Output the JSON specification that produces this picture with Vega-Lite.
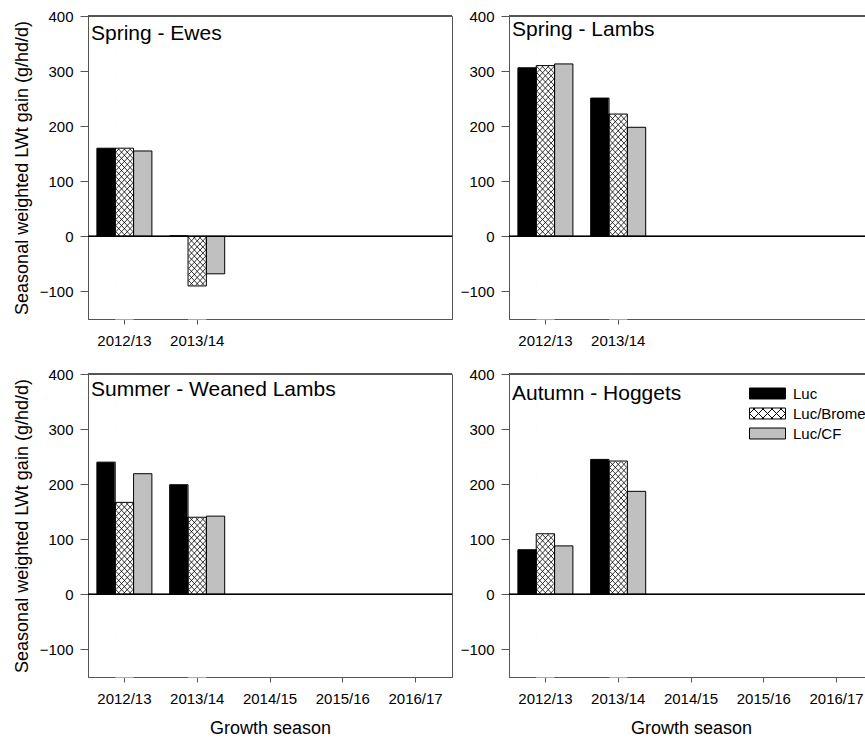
{
  "$schema": "https://vega.github.io/schema/vega-lite/v6.json",
  "padding": {"left": 12, "top": 8, "right": 0, "bottom": 0},
  "background": "white",
  "resolve": {"scale": {"fill": "independent", "shape": "independent"}, "legend": {"fill": "independent", "shape": "independent"}},
  "config": {
    "font": "Liberation Sans",
    "view": {"stroke": "#555", "strokeWidth": 1},
    "axis": {"labelFont": "Liberation Sans", "labelFontSize": 15, "labelColor": "black", "titleFont": "Liberation Sans", "titleFontSize": 18, "titleFontWeight": "normal", "titleColor": "black", "domainColor": "#555", "tickColor": "#555", "grid": false, "zindex": 1, "labelOverlap": false},
    "axisX": {"tickSize": 5, "labelPadding": 9, "titlePadding": 13, "labelAngle": 0},
    "axisY": {"tickSize": 8, "labelPadding": 7, "titlePadding": 8},
    "title": {"anchor": "start", "frame": "group", "orient": "top", "baseline": "alphabetic", "fontSize": 21, "fontWeight": "normal", "color": "black", "font": "Liberation Sans", "dx": 3}
  },
  "datasets": {
    "lwt": [
      {"panel": "Spring - Ewes", "season": "2012/13", "series": "Luc", "value": 160},
      {"panel": "Spring - Ewes", "season": "2012/13", "series": "Luc/Brome", "value": 160},
      {"panel": "Spring - Ewes", "season": "2012/13", "series": "Luc/CF", "value": 155},
      {"panel": "Spring - Ewes", "season": "2013/14", "series": "Luc", "value": 1},
      {"panel": "Spring - Ewes", "season": "2013/14", "series": "Luc/Brome", "value": -90},
      {"panel": "Spring - Ewes", "season": "2013/14", "series": "Luc/CF", "value": -68},
      {"panel": "Spring - Lambs", "season": "2012/13", "series": "Luc", "value": 306},
      {"panel": "Spring - Lambs", "season": "2012/13", "series": "Luc/Brome", "value": 310},
      {"panel": "Spring - Lambs", "season": "2012/13", "series": "Luc/CF", "value": 313},
      {"panel": "Spring - Lambs", "season": "2013/14", "series": "Luc", "value": 251},
      {"panel": "Spring - Lambs", "season": "2013/14", "series": "Luc/Brome", "value": 222},
      {"panel": "Spring - Lambs", "season": "2013/14", "series": "Luc/CF", "value": 198},
      {"panel": "Summer - Weaned Lambs", "season": "2012/13", "series": "Luc", "value": 240},
      {"panel": "Summer - Weaned Lambs", "season": "2012/13", "series": "Luc/Brome", "value": 167},
      {"panel": "Summer - Weaned Lambs", "season": "2012/13", "series": "Luc/CF", "value": 219},
      {"panel": "Summer - Weaned Lambs", "season": "2013/14", "series": "Luc", "value": 199},
      {"panel": "Summer - Weaned Lambs", "season": "2013/14", "series": "Luc/Brome", "value": 140},
      {"panel": "Summer - Weaned Lambs", "season": "2013/14", "series": "Luc/CF", "value": 142},
      {"panel": "Autumn - Hoggets", "season": "2012/13", "series": "Luc", "value": 81},
      {"panel": "Autumn - Hoggets", "season": "2012/13", "series": "Luc/Brome", "value": 110},
      {"panel": "Autumn - Hoggets", "season": "2012/13", "series": "Luc/CF", "value": 88},
      {"panel": "Autumn - Hoggets", "season": "2013/14", "series": "Luc", "value": 245},
      {"panel": "Autumn - Hoggets", "season": "2013/14", "series": "Luc/Brome", "value": 242},
      {"panel": "Autumn - Hoggets", "season": "2013/14", "series": "Luc/CF", "value": 187}
    ]
  },
  "columns": 2,
  "spacing": {"row": 17, "column": 6},
  "concat": [
    {
      "width": 364, "height": 303,
      "data": {"name": "lwt"},
      "transform": [{"filter": "datum.panel === 'Spring - Ewes'"}],
      "title": {"text": "Spring - Ewes", "offset": -35},
      "layer": [
        {
          "encoding": {
            "x": {"field": "season", "type": "nominal", "scale": {"domain": ["2012/13", "2013/14", "2014/15", "2015/16", "2016/17"], "paddingInner": 0.2445, "paddingOuter": 0.12225}, "axis": {"values": ["2012/13", "2013/14"], "title": null}},
            "xOffset": {"field": "series", "type": "nominal", "scale": {"domain": ["Luc", "Luc/Brome", "Luc/CF"], "paddingInner": 0, "paddingOuter": 0}}
          },
          "layer": [
            {"mark": {"type": "bar"}, "encoding": {"y": {"field": "value", "type": "quantitative", "scale": {"domain": [-150, 400], "nice": false, "zero": false}, "axis": {"values": [-100, 0, 100, 200, 300, 400], "title": "Seasonal weighted LWt gain (g/hd/d)"}}, "fill": {"field": "series", "type": "nominal", "scale": {"domain": ["Luc", "Luc/Brome", "Luc/CF"], "range": ["black", "white", "#c0c0c0"]}, "legend": null}}},
            {"transform": [{"filter": "datum.series === 'Luc/Brome'"}], "mark": {"type": "point", "shape": "M-2.8,-55L2.8,-49L-2.8,-43L2.8,-37L-2.8,-31L2.8,-25L-2.8,-19L2.8,-13L-2.8,-7L2.8,-1L-2.8,5L2.8,11L-2.8,17L2.8,23L-2.8,29L2.8,35L-2.8,41L2.8,47L-2.8,53L2.8,59M-2.8,-53L2.8,-47L-2.8,-41L2.8,-35L-2.8,-29L2.8,-23L-2.8,-17L2.8,-11L-2.8,-5L2.8,1L-2.8,7L2.8,13L-2.8,19L2.8,25L-2.8,31L2.8,37L-2.8,43L2.8,49L-2.8,55L2.8,61M-2.8,-51L2.8,-45L-2.8,-39L2.8,-33L-2.8,-27L2.8,-21L-2.8,-15L2.8,-9L-2.8,-3L2.8,3L-2.8,9L2.8,15L-2.8,21L2.8,27L-2.8,33L2.8,39L-2.8,45L2.8,51L-2.8,57L2.8,63M-2.8,-49L2.8,-43L-2.8,-37L2.8,-31L-2.8,-25L2.8,-19L-2.8,-13L2.8,-7L-2.8,-1L2.8,5L-2.8,11L2.8,17L-2.8,23L2.8,29L-2.8,35L2.8,41L-2.8,47L2.8,53L-2.8,59M-2.8,-47L2.8,-41L-2.8,-35L2.8,-29L-2.8,-23L2.8,-17L-2.8,-11L2.8,-5L-2.8,1L2.8,7L-2.8,13L2.8,19L-2.8,25L2.8,31L-2.8,37L2.8,43L-2.8,49L2.8,55L-2.8,61M-2.8,-45L2.8,-39L-2.8,-33L2.8,-27L-2.8,-21L2.8,-15L-2.8,-9L2.8,-3L-2.8,3L2.8,9L-2.8,15L2.8,21L-2.8,27L2.8,33L-2.8,39L2.8,45L-2.8,51L2.8,57", "size": 37.35, "filled": false, "stroke": "black", "strokeWidth": 0.8, "strokeJoin": "bevel", "opacity": 1, "clip": true}, "encoding": {"y": {"datum": 125}}},
            {"transform": [{"filter": "datum.series === 'Luc/Brome' && datum.value >= 0"}], "mark": {"type": "bar", "fill": "white", "stroke": "white", "strokeWidth": 1}, "encoding": {"y": {"field": "value", "type": "quantitative"}, "y2": {"datum": 400}}},
            {"transform": [{"filter": "datum.series === 'Luc/Brome' && datum.value >= 0"}], "mark": {"type": "bar", "fill": "white", "stroke": "white", "strokeWidth": 1}, "encoding": {"y": {"datum": -150}, "y2": {"datum": 0}}},
            {"transform": [{"filter": "datum.series === 'Luc/Brome' && datum.value < 0"}], "mark": {"type": "bar", "fill": "white", "stroke": "white", "strokeWidth": 1}, "encoding": {"y": {"datum": 0}, "y2": {"datum": 400}}},
            {"transform": [{"filter": "datum.series === 'Luc/Brome' && datum.value < 0"}], "mark": {"type": "bar", "fill": "white", "stroke": "white", "strokeWidth": 1}, "encoding": {"y": {"field": "value", "type": "quantitative"}, "y2": {"datum": -150}}},
            {"mark": {"type": "bar", "filled": false, "stroke": "black", "strokeWidth": 1}, "encoding": {"y": {"field": "value", "type": "quantitative"}}}
          ]
        },
        {"mark": {"type": "rule", "color": "black", "strokeWidth": 1}, "encoding": {"y": {"datum": 0}}},
        {"mark": {"type": "rule", "color": "#555", "strokeWidth": 1}, "encoding": {"y": {"datum": 400}}}
      ]
    },
    {
      "width": 364, "height": 303,
      "data": {"name": "lwt"},
      "transform": [{"filter": "datum.panel === 'Spring - Lambs'"}],
      "title": {"text": "Spring - Lambs", "offset": -31},
      "layer": [
        {
          "encoding": {
            "x": {"field": "season", "type": "nominal", "scale": {"domain": ["2012/13", "2013/14", "2014/15", "2015/16", "2016/17"], "paddingInner": 0.2445, "paddingOuter": 0.12225}, "axis": {"values": ["2012/13", "2013/14"], "title": null}},
            "xOffset": {"field": "series", "type": "nominal", "scale": {"domain": ["Luc", "Luc/Brome", "Luc/CF"], "paddingInner": 0, "paddingOuter": 0}}
          },
          "layer": [
            {"mark": {"type": "bar"}, "encoding": {"y": {"field": "value", "type": "quantitative", "scale": {"domain": [-150, 400], "nice": false, "zero": false}, "axis": {"values": [-100, 0, 100, 200, 300, 400], "title": null}}, "fill": {"field": "series", "type": "nominal", "scale": {"domain": ["Luc", "Luc/Brome", "Luc/CF"], "range": ["black", "white", "#c0c0c0"]}, "legend": null}}},
            {"transform": [{"filter": "datum.series === 'Luc/Brome'"}], "mark": {"type": "point", "shape": "M-2.8,-55L2.8,-49L-2.8,-43L2.8,-37L-2.8,-31L2.8,-25L-2.8,-19L2.8,-13L-2.8,-7L2.8,-1L-2.8,5L2.8,11L-2.8,17L2.8,23L-2.8,29L2.8,35L-2.8,41L2.8,47L-2.8,53L2.8,59M-2.8,-53L2.8,-47L-2.8,-41L2.8,-35L-2.8,-29L2.8,-23L-2.8,-17L2.8,-11L-2.8,-5L2.8,1L-2.8,7L2.8,13L-2.8,19L2.8,25L-2.8,31L2.8,37L-2.8,43L2.8,49L-2.8,55L2.8,61M-2.8,-51L2.8,-45L-2.8,-39L2.8,-33L-2.8,-27L2.8,-21L-2.8,-15L2.8,-9L-2.8,-3L2.8,3L-2.8,9L2.8,15L-2.8,21L2.8,27L-2.8,33L2.8,39L-2.8,45L2.8,51L-2.8,57L2.8,63M-2.8,-49L2.8,-43L-2.8,-37L2.8,-31L-2.8,-25L2.8,-19L-2.8,-13L2.8,-7L-2.8,-1L2.8,5L-2.8,11L2.8,17L-2.8,23L2.8,29L-2.8,35L2.8,41L-2.8,47L2.8,53L-2.8,59M-2.8,-47L2.8,-41L-2.8,-35L2.8,-29L-2.8,-23L2.8,-17L-2.8,-11L2.8,-5L-2.8,1L2.8,7L-2.8,13L2.8,19L-2.8,25L2.8,31L-2.8,37L2.8,43L-2.8,49L2.8,55L-2.8,61M-2.8,-45L2.8,-39L-2.8,-33L2.8,-27L-2.8,-21L2.8,-15L-2.8,-9L2.8,-3L-2.8,3L2.8,9L-2.8,15L2.8,21L-2.8,27L2.8,33L-2.8,39L2.8,45L-2.8,51L2.8,57", "size": 37.35, "filled": false, "stroke": "black", "strokeWidth": 0.8, "strokeJoin": "bevel", "opacity": 1, "clip": true}, "encoding": {"y": {"datum": 125}}},
            {"transform": [{"filter": "datum.series === 'Luc/Brome'"}], "mark": {"type": "bar", "fill": "white", "stroke": "white", "strokeWidth": 1}, "encoding": {"y": {"field": "value", "type": "quantitative"}, "y2": {"datum": 400}}},
            {"transform": [{"filter": "datum.series === 'Luc/Brome'"}], "mark": {"type": "bar", "fill": "white", "stroke": "white", "strokeWidth": 1}, "encoding": {"y": {"datum": -150}, "y2": {"datum": 0}}},
            {"mark": {"type": "bar", "filled": false, "stroke": "black", "strokeWidth": 1}, "encoding": {"y": {"field": "value", "type": "quantitative"}}}
          ]
        },
        {"mark": {"type": "rule", "color": "black", "strokeWidth": 1}, "encoding": {"y": {"datum": 0}}},
        {"mark": {"type": "rule", "color": "#555", "strokeWidth": 1}, "encoding": {"y": {"datum": 400}}}
      ]
    },
    {
      "width": 364, "height": 303,
      "data": {"name": "lwt"},
      "transform": [{"filter": "datum.panel === 'Summer - Weaned Lambs'"}],
      "title": {"text": "Summer - Weaned Lambs", "offset": -33},
      "layer": [
        {
          "encoding": {
            "x": {"field": "season", "type": "nominal", "scale": {"domain": ["2012/13", "2013/14", "2014/15", "2015/16", "2016/17"], "paddingInner": 0.2445, "paddingOuter": 0.12225}, "axis": {"title": "Growth season"}},
            "xOffset": {"field": "series", "type": "nominal", "scale": {"domain": ["Luc", "Luc/Brome", "Luc/CF"], "paddingInner": 0, "paddingOuter": 0}}
          },
          "layer": [
            {"mark": {"type": "bar"}, "encoding": {"y": {"field": "value", "type": "quantitative", "scale": {"domain": [-150, 400], "nice": false, "zero": false}, "axis": {"values": [-100, 0, 100, 200, 300, 400], "title": "Seasonal weighted LWt gain (g/hd/d)"}}, "fill": {"field": "series", "type": "nominal", "scale": {"domain": ["Luc", "Luc/Brome", "Luc/CF"], "range": ["black", "white", "#c0c0c0"]}, "legend": null}}},
            {"transform": [{"filter": "datum.series === 'Luc/Brome'"}], "mark": {"type": "point", "shape": "M-2.8,-55L2.8,-49L-2.8,-43L2.8,-37L-2.8,-31L2.8,-25L-2.8,-19L2.8,-13L-2.8,-7L2.8,-1L-2.8,5L2.8,11L-2.8,17L2.8,23L-2.8,29L2.8,35L-2.8,41L2.8,47L-2.8,53L2.8,59M-2.8,-53L2.8,-47L-2.8,-41L2.8,-35L-2.8,-29L2.8,-23L-2.8,-17L2.8,-11L-2.8,-5L2.8,1L-2.8,7L2.8,13L-2.8,19L2.8,25L-2.8,31L2.8,37L-2.8,43L2.8,49L-2.8,55L2.8,61M-2.8,-51L2.8,-45L-2.8,-39L2.8,-33L-2.8,-27L2.8,-21L-2.8,-15L2.8,-9L-2.8,-3L2.8,3L-2.8,9L2.8,15L-2.8,21L2.8,27L-2.8,33L2.8,39L-2.8,45L2.8,51L-2.8,57L2.8,63M-2.8,-49L2.8,-43L-2.8,-37L2.8,-31L-2.8,-25L2.8,-19L-2.8,-13L2.8,-7L-2.8,-1L2.8,5L-2.8,11L2.8,17L-2.8,23L2.8,29L-2.8,35L2.8,41L-2.8,47L2.8,53L-2.8,59M-2.8,-47L2.8,-41L-2.8,-35L2.8,-29L-2.8,-23L2.8,-17L-2.8,-11L2.8,-5L-2.8,1L2.8,7L-2.8,13L2.8,19L-2.8,25L2.8,31L-2.8,37L2.8,43L-2.8,49L2.8,55L-2.8,61M-2.8,-45L2.8,-39L-2.8,-33L2.8,-27L-2.8,-21L2.8,-15L-2.8,-9L2.8,-3L-2.8,3L2.8,9L-2.8,15L2.8,21L-2.8,27L2.8,33L-2.8,39L2.8,45L-2.8,51L2.8,57", "size": 37.35, "filled": false, "stroke": "black", "strokeWidth": 0.8, "strokeJoin": "bevel", "opacity": 1, "clip": true}, "encoding": {"y": {"datum": 125}}},
            {"transform": [{"filter": "datum.series === 'Luc/Brome'"}], "mark": {"type": "bar", "fill": "white", "stroke": "white", "strokeWidth": 1}, "encoding": {"y": {"field": "value", "type": "quantitative"}, "y2": {"datum": 400}}},
            {"transform": [{"filter": "datum.series === 'Luc/Brome'"}], "mark": {"type": "bar", "fill": "white", "stroke": "white", "strokeWidth": 1}, "encoding": {"y": {"datum": -150}, "y2": {"datum": 0}}},
            {"mark": {"type": "bar", "filled": false, "stroke": "black", "strokeWidth": 1}, "encoding": {"y": {"field": "value", "type": "quantitative"}}}
          ]
        },
        {"mark": {"type": "rule", "color": "black", "strokeWidth": 1}, "encoding": {"y": {"datum": 0}}},
        {"mark": {"type": "rule", "color": "#555", "strokeWidth": 1}, "encoding": {"y": {"datum": 400}}}
      ]
    },
    {
      "width": 364, "height": 303,
      "data": {"name": "lwt"},
      "transform": [{"filter": "datum.panel === 'Autumn - Hoggets'"}],
      "title": {"text": "Autumn - Hoggets", "offset": -37},
      "layer": [
        {
          "encoding": {
            "x": {"field": "season", "type": "nominal", "scale": {"domain": ["2012/13", "2013/14", "2014/15", "2015/16", "2016/17"], "paddingInner": 0.2445, "paddingOuter": 0.12225}, "axis": {"title": "Growth season"}},
            "xOffset": {"field": "series", "type": "nominal", "scale": {"domain": ["Luc", "Luc/Brome", "Luc/CF"], "paddingInner": 0, "paddingOuter": 0}}
          },
          "layer": [
            {"mark": {"type": "bar"}, "encoding": {"y": {"field": "value", "type": "quantitative", "scale": {"domain": [-150, 400], "nice": false, "zero": false}, "axis": {"values": [-100, 0, 100, 200, 300, 400], "title": null}}, "fill": {"field": "series", "type": "nominal", "scale": {"domain": ["Luc", "Luc/Brome", "Luc/CF"], "range": ["black", "white", "#c0c0c0"]}, "legend": {"title": null, "orient": "none", "legendX": 251, "legendY": 12, "symbolSize": 36, "labelOffset": 18, "labelFontSize": 15, "labelColor": "black", "labelFont": "Liberation Sans", "symbolStrokeColor": "black", "symbolStrokeWidth": 1, "symbolOpacity": 1, "rowPadding": 4, "padding": 0, "encode": {"symbols": {"update": {"stroke": {"value": "black"}, "strokeWidth": {"value": 1}, "opacity": {"value": 1}}}}}}}},
            {"transform": [{"filter": "datum.series === 'Luc/Brome'"}], "mark": {"type": "point", "shape": "M-2.8,-55L2.8,-49L-2.8,-43L2.8,-37L-2.8,-31L2.8,-25L-2.8,-19L2.8,-13L-2.8,-7L2.8,-1L-2.8,5L2.8,11L-2.8,17L2.8,23L-2.8,29L2.8,35L-2.8,41L2.8,47L-2.8,53L2.8,59M-2.8,-53L2.8,-47L-2.8,-41L2.8,-35L-2.8,-29L2.8,-23L-2.8,-17L2.8,-11L-2.8,-5L2.8,1L-2.8,7L2.8,13L-2.8,19L2.8,25L-2.8,31L2.8,37L-2.8,43L2.8,49L-2.8,55L2.8,61M-2.8,-51L2.8,-45L-2.8,-39L2.8,-33L-2.8,-27L2.8,-21L-2.8,-15L2.8,-9L-2.8,-3L2.8,3L-2.8,9L2.8,15L-2.8,21L2.8,27L-2.8,33L2.8,39L-2.8,45L2.8,51L-2.8,57L2.8,63M-2.8,-49L2.8,-43L-2.8,-37L2.8,-31L-2.8,-25L2.8,-19L-2.8,-13L2.8,-7L-2.8,-1L2.8,5L-2.8,11L2.8,17L-2.8,23L2.8,29L-2.8,35L2.8,41L-2.8,47L2.8,53L-2.8,59M-2.8,-47L2.8,-41L-2.8,-35L2.8,-29L-2.8,-23L2.8,-17L-2.8,-11L2.8,-5L-2.8,1L2.8,7L-2.8,13L2.8,19L-2.8,25L2.8,31L-2.8,37L2.8,43L-2.8,49L2.8,55L-2.8,61M-2.8,-45L2.8,-39L-2.8,-33L2.8,-27L-2.8,-21L2.8,-15L-2.8,-9L2.8,-3L-2.8,3L2.8,9L-2.8,15L2.8,21L-2.8,27L2.8,33L-2.8,39L2.8,45L-2.8,51L2.8,57", "size": 37.35, "filled": false, "stroke": "black", "strokeWidth": 0.8, "strokeJoin": "bevel", "opacity": 1, "clip": true}, "encoding": {"y": {"datum": 125}}},
            {"transform": [{"filter": "datum.series === 'Luc/Brome'"}], "mark": {"type": "bar", "fill": "white", "stroke": "white", "strokeWidth": 1}, "encoding": {"y": {"field": "value", "type": "quantitative"}, "y2": {"datum": 400}}},
            {"transform": [{"filter": "datum.series === 'Luc/Brome'"}], "mark": {"type": "bar", "fill": "white", "stroke": "white", "strokeWidth": 1}, "encoding": {"y": {"datum": -150}, "y2": {"datum": 0}}},
            {"mark": {"type": "bar", "filled": false, "stroke": "black", "strokeWidth": 1}, "encoding": {"y": {"field": "value", "type": "quantitative"}}},
            {"transform": [{"filter": "datum.value > 1000"}], "mark": {"type": "point", "filled": true, "stroke": "black"}, "encoding": {"y": {"field": "value", "type": "quantitative"}, "fill": {"field": "series", "type": "nominal", "scale": {"domain": ["Luc", "Luc/Brome", "Luc/CF"], "range": ["black", "white", "#c0c0c0"]}, "legend": {"title": null, "orient": "none", "legendX": 251, "legendY": 12, "symbolSize": 36, "labelOffset": 18, "labelFontSize": 15, "labelColor": "black", "labelFont": "Liberation Sans", "symbolStrokeColor": "black", "symbolStrokeWidth": 1, "symbolOpacity": 1, "rowPadding": 4, "padding": 0, "encode": {"symbols": {"update": {"stroke": {"value": "black"}, "strokeWidth": {"value": 1}, "opacity": {"value": 1}}}}}}, "shape": {"field": "series", "type": "nominal", "scale": {"domain": ["Luc", "Luc/Brome", "Luc/CF"], "range": ["M-6,-1.83H6V1.83H-6Z", "M-6,-1.83H6V1.83H-6ZM-6,0L-4.17,1.83M-4.83,-1.83L-1.17,1.83M-1.83,-1.83L1.83,1.83M1.17,-1.83L4.83,1.83M4.17,-1.83L6,0M-4.17,-1.83L-6,0M-1.17,-1.83L-4.83,1.83M1.83,-1.83L-1.83,1.83M4.83,-1.83L1.17,1.83M6,0L4.17,1.83", "M-6,-1.83H6V1.83H-6Z"]}, "legend": {"title": null, "orient": "none", "legendX": 251, "legendY": 12, "symbolSize": 36, "labelOffset": 18, "labelFontSize": 15, "labelColor": "black", "labelFont": "Liberation Sans", "symbolStrokeColor": "black", "symbolStrokeWidth": 1, "symbolOpacity": 1, "rowPadding": 4, "padding": 0, "encode": {"symbols": {"update": {"stroke": {"value": "black"}, "strokeWidth": {"value": 1}, "opacity": {"value": 1}}}}}}}}
          ]
        },
        {"mark": {"type": "rule", "color": "black", "strokeWidth": 1}, "encoding": {"y": {"datum": 0}}},
        {"mark": {"type": "rule", "color": "#555", "strokeWidth": 1}, "encoding": {"y": {"datum": 400}}}
      ]
    }
  ]
}
